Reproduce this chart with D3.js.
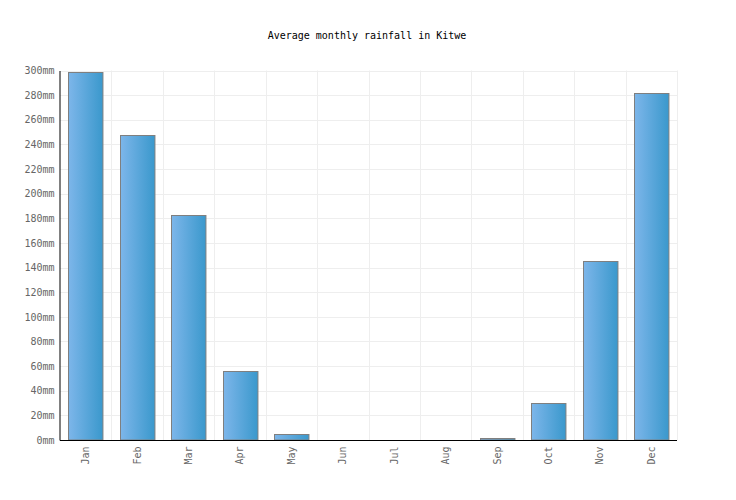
<!DOCTYPE html>
<html>
<head>
<meta charset="utf-8">
<script src="https://cdn.jsdelivr.net/npm/d3@7"></script>
<style>
  body { margin: 0; background: #fff; }
  text { font-family: "DejaVu Sans Mono", monospace; }
</style>
</head>
<body>
<svg id="chart" width="736" height="500"></svg>
<script>
const months = ["Jan","Feb","Mar","Apr","May","Jun","Jul","Aug","Sep","Oct","Nov","Dec"];
const rainfall = [298.5, 248, 182.5, 56, 4.5, 0, 0, 0, 1.5, 30, 145, 282];
const yTicks = [0,20,40,60,80,100,120,140,160,180,200,220,240,260,280,300];

const width = 736, height = 500;
const margin = {top: 70.5, right: 59, bottom: 60, left: 60};

const svg = d3.select("#chart");

// gradient for bars
const grad = svg.append("defs").append("linearGradient")
    .attr("id", "barGrad")
    .attr("x1", "0%").attr("x2", "100%").attr("y1", "0%").attr("y2", "0%");
grad.append("stop").attr("offset", "0%").attr("stop-color", "#7db6ea");
grad.append("stop").attr("offset", "100%").attr("stop-color", "#3a98cc");

const x = d3.scaleBand()
    .domain(months)
    .range([margin.left, width - margin.right])
    .paddingInner(0.33)
    .paddingOuter(0.165);

const xGrid = d3.scaleBand()
    .domain(months)
    .range([margin.left, width - margin.right]);

const y = d3.scaleLinear()
    .domain([0, 300])
    .range([height - margin.bottom, margin.top]);

// horizontal grid
svg.append("g")
  .selectAll("line")
  .data(yTicks)
  .join("line")
    .attr("x1", margin.left)
    .attr("x2", width - margin.right)
    .attr("y1", d => Math.round(y(d)) + 0.5)
    .attr("y2", d => Math.round(y(d)) + 0.5)
    .attr("stroke", "#eeeeee");

// vertical grid at category edges
svg.append("g")
  .selectAll("line")
  .data(months)
  .join("line")
    .attr("x1", d => Math.round(xGrid(d) + xGrid.bandwidth()) + 0.5)
    .attr("x2", d => Math.round(xGrid(d) + xGrid.bandwidth()) + 0.5)
    .attr("y1", margin.top)
    .attr("y2", height - margin.bottom)
    .attr("stroke", "#eeeeee");

// bars
svg.append("g")
  .selectAll("rect")
  .data(rainfall)
  .join("rect")
    .attr("x", (d, i) => Math.round(x(months[i])) + 0.5)
    .attr("y", d => Math.round(y(d)) + 0.5)
    .attr("width", x.bandwidth())
    .attr("height", d => Math.max(0, y(0) - Math.round(y(d)) - 0.5))
    .attr("fill", "url(#barGrad)")
    .attr("stroke", "#7f7f7f")
    .attr("stroke-width", 1);

// y axis
const yAxis = svg.append("g")
    .attr("transform", `translate(${margin.left - 0.5},0)`)
    .call(d3.axisLeft(y).tickValues(yTicks).tickSize(0).tickPadding(5).tickFormat(d => d + "mm"));
yAxis.select(".domain").attr("stroke", "#000");
yAxis.selectAll("text").attr("fill", "#666").attr("font-size", 10)
    .attr("font-family", "DejaVu Sans Mono, monospace");

// x axis
const xAxis = svg.append("g")
    .attr("transform", `translate(0,${height - margin.bottom + 0.5})`)
    .call(d3.axisBottom(x).tickSize(0).tickPadding(0));
xAxis.select(".domain").attr("stroke", "#000").attr("d", `M${margin.left},0H${width - margin.right}`);
xAxis.selectAll("text")
    .attr("fill", "#666")
    .attr("font-size", 10)
    .attr("font-family", "DejaVu Sans Mono, monospace")
    .attr("transform", "rotate(-90)")
    .attr("text-anchor", "end")
    .attr("dx", "-6")
    .attr("dy", "0.35em")
    .attr("y", 0)
    .attr("x", 0);
xAxis.selectAll(".tick")
    .attr("transform", d => `translate(${x(d) + x.bandwidth() / 2},0)`);

// title
svg.append("text")
    .attr("x", 367)
    .attr("y", 39)
    .attr("text-anchor", "middle")
    .attr("font-size", 10)
    .attr("fill", "#000")
    .text("Average monthly rainfall in Kitwe");
</script>
</body>
</html>
